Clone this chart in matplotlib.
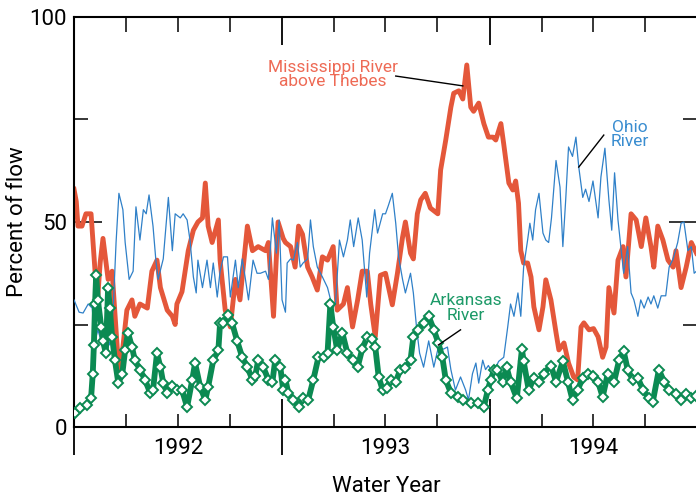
"""
Share of flow at Thebes by river, water years 1992-1994.
Mississippi above Thebes, Ohio and Arkansas as percent of flow.
"""
import numpy as np, pandas as pd
import matplotlib
matplotlib.use("Agg")
import matplotlib.pyplot as plt

plt.rcParams["font.family"] = ["Roboto", "DejaVu Sans"]

START = pd.Timestamp("1991-10-01")

# days since 1 Oct 1991, percent of flow
miss_day = [0, 4, 7, 14, 21, 30, 37, 41, 46, 51, 60, 67, 76, 81, 86, 93, 102, 107, 116, 129,
            137, 146, 152, 164, 173, 178, 181, 190, 201, 210, 218, 226, 231, 236, 243, 254, 257,
            266, 275, 284, 292, 305, 314, 324, 337, 342, 351, 359, 368, 372, 381, 389, 395, 402,
            411, 419, 428, 437, 446, 456, 463, 474, 481, 490, 499, 507, 516, 522, 530, 539, 548,
            560, 569, 578, 583, 592, 597, 604, 610, 618, 627, 640, 645, 654, 663, 668, 677, 684,
            691, 698, 703, 712, 721, 729, 737, 742, 751, 756, 765, 772, 777, 782, 786, 791, 798,
            804, 809, 818, 825, 830, 839, 848, 853, 862, 870, 879, 886, 892, 897, 906, 914, 922,
            930, 936, 941, 950, 957, 966, 971, 980, 989, 998, 1006, 1015, 1020, 1027, 1036, 1045,
            1054, 1059, 1068, 1077, 1086, 1095]
miss_val = [58, 55, 49, 49, 52, 52, 38, 30, 40, 46, 36, 38, 19.5, 14, 19.5, 28.5, 31, 27, 30, 29,
            38, 40.7, 34, 28.5, 27, 25, 30, 33, 43, 48, 50, 51, 59.5, 49, 45, 50.5, 40.7,
            28.5, 24.4, 36, 31, 49, 43, 44, 43, 45, 27, 50, 46, 45, 44, 39, 49, 47,
            39, 36.6, 33.4, 41.5, 40.7, 44, 28.5, 30, 34, 24.4, 31, 38, 38, 30, 22, 37, 37.5,
            29.8, 37.5, 46.3, 50, 42.4, 41, 52, 55.4, 57, 53.4, 52, 62.7, 70, 78, 81.4, 82, 80,
            88.3, 78, 77, 79, 74, 70.7, 70.7, 70, 74, 69, 59.5, 57.8, 60, 54.6, 43, 40, 40,
            36.6, 29.3, 23.7, 29.3, 35.9, 31, 23, 18.8, 20.5, 15.6, 12.2, 11.5, 24.4, 25.4, 23.7, 24, 22,
            17, 19.5, 34, 27.8, 40.7, 44, 36.6, 52, 50.5, 44, 51, 44, 39, 49, 45.6, 40.7,
            39, 43, 34, 39, 45, 42.4]

ohio_day = [0, 9, 16, 25, 32, 37, 42, 51, 58, 63, 69, 74, 79, 86, 90, 97, 104, 109, 116, 122,
            127, 132, 139, 144, 148, 157, 166, 173, 178, 187, 192, 199, 204, 210, 215, 218, 226,
            234, 240, 245, 252, 257, 263, 270, 275, 284, 289, 296, 301, 307, 315, 322, 328, 337,
            342, 349, 356, 361, 366, 372, 375, 381, 386, 393, 398, 403, 411, 416, 421, 428, 437,
            446, 455, 460, 467, 474, 481, 486, 492, 500, 507, 515, 520, 529, 534, 543, 548, 553,
            560, 566, 571, 578, 583, 592, 597, 603, 608, 615, 624, 633, 641, 650, 657, 663, 671,
            680, 689, 694, 701, 707, 712, 719, 724, 729, 737, 747, 756, 763, 768, 774, 781, 786,
            791, 798, 802, 807, 812, 818, 825, 830, 835, 840, 848, 855, 860, 865, 870, 877, 883,
            888, 895, 900, 906, 913, 922, 927, 934, 941, 946, 951, 957, 962, 967, 974, 980, 985,
            992, 997, 1003, 1010, 1015, 1020, 1027, 1033, 1041, 1047, 1054, 1062, 1068, 1073,
            1080, 1086, 1091, 1095]
ohio_val = [31, 28, 27.8, 30, 29, 21, 23.7, 19.5, 22, 20, 29, 45, 57, 53, 45, 36, 38, 53.7, 45.6, 53,
            52, 56.6, 49, 40.7, 36, 41, 56, 43, 52, 51, 52, 50.5, 45.6, 36.6, 32.7, 40.7, 34,
            40.7, 34, 40, 31.7, 38, 41.5, 41.5, 31.7, 40.7, 34, 41, 36.6, 31, 40.7, 37.5, 37.5, 38,
            36, 51, 42.4, 50.5, 31, 28, 40, 41, 40.7, 45, 39, 40, 41, 50.5, 44, 39, 36.6,
            34, 29, 30, 45.6, 41.5, 45.6, 50.5, 44, 51, 45.6, 31.7, 42.4, 53, 47.3, 52, 52, 54,
            57, 49.7, 41.5, 36, 32.7, 37.5, 32.7, 23.7, 18, 14.6, 21, 14.6, 19.5, 19, 19.5, 14, 9,
            12.2, 9, 6.6, 13, 15.6, 10.7, 16.3, 14, 15, 13, 16, 17, 24.4, 30, 27, 32.7, 27,
            39, 45.6, 49.7, 45.6, 53, 57, 47.3, 45.6, 45, 51, 65, 58.5, 44, 55.4, 68.3, 66, 70.7,
            63.4, 56, 58, 55, 60, 51, 61, 68, 55.4, 48, 62, 50.5, 44, 37.5, 44, 32.7, 31,
            27, 31, 29, 31.7, 30, 32, 29, 32, 32, 39, 41, 45, 49.7, 50,
            43, 44, 37.5, 38]

ark_day = [2, 11, 23, 30, 33, 35, 37, 39, 42, 48, 51, 56, 60, 63, 67, 72, 78, 85, 90, 95, 102,
           107, 116, 125, 134, 139, 146, 152, 157, 164, 173, 181, 190, 199, 208, 213, 222, 231,
           236, 245, 254, 257, 263, 271, 278, 287, 296, 305, 314, 319, 324, 333, 342, 349, 354,
           363, 368, 372, 377, 386, 395, 403, 412, 421, 430, 439, 446, 451, 456, 463, 472, 481,
           490, 499, 507, 516, 525, 530, 536, 543, 551, 557, 566, 574, 583, 592, 597, 606, 615,
           624, 633, 641, 648, 654, 663, 675, 685, 698, 710, 721, 728, 733, 739, 745, 754, 761,
           768, 779, 788, 791, 800, 809, 818, 826, 839, 848, 860, 869, 877, 886, 895, 904, 913,
           922, 930, 939, 950, 959, 967, 974, 983, 992, 1001, 1011, 1018, 1029, 1038, 1047, 1059,
           1068, 1077, 1086, 1095]
ark_val = [3.4, 4.6, 5.4, 7, 13, 20, 30, 37, 31, 24.4, 21, 18, 34, 29, 22, 16.3, 10.7, 13, 18.8, 23, 19.5,
           16.3, 14, 11.5, 8.3, 9, 18, 14.6, 10.7, 8.3, 10, 9, 9, 4.9, 11.5, 15.6, 9.8, 6.6,
           9.8, 16.3, 18.8, 25.4, 25.4, 27.3, 25.4, 21, 17, 14.6, 11.5, 12.5, 16.3, 14.6, 11.5, 11, 16.3,
           14.6, 9, 11.5, 8.3, 6.6, 4.9, 7, 6.6, 11.5, 17, 17, 18, 30, 24.4, 18.8, 23, 18,
           16.3, 14.6, 19, 22, 21.5, 19.5, 12.2, 9, 9.5, 11.5, 11, 14, 14.5, 16.3, 22, 23.7, 25.4,
           27, 23.7, 20.5, 17, 11.5, 8.3, 7.3, 6.6, 5.8, 5.8, 4.9, 9, 11.5, 14, 14, 11, 14.6,
           11, 7, 19, 16, 9, 12, 11, 13, 15, 11, 16, 11, 6.6, 9, 12, 13, 12.5,
           11, 7.3, 13, 11, 16.3, 18.5, 14, 11.5, 12, 9, 7, 6, 14, 11, 9, 8,
           6.6, 8, 7, 7.5]

MISS_C, OHIO_C, ARK_C = "#e4573a", "#2f80c8", "#0b8a52"

# water-year boundaries and quarter ticks, as day offsets
year_days = list((pd.to_datetime(["1991-10-01", "1992-10-01", "1993-10-01", "1994-10-01"]) - START).days)
qtr_days = [d for d in (pd.date_range("1992-01-01", "1994-07-01", freq="QS-JAN") - START).days
            if d not in year_days]
mid_days = (pd.to_datetime(["1992-04-01", "1993-04-01", "1994-04-01"]) - START).days
year_labels = ["1992", "1993", "1994"]

fig = plt.figure(figsize=(6.96, 4.99), dpi=100)
ax = fig.add_axes([74 / 696, 1 - 427 / 499, 623 / 696, 410 / 499])

ax.plot(miss_day, miss_val, color=MISS_C, lw=3.5, solid_joinstyle="round", zorder=2)
ax.plot(ohio_day, ohio_val, color=OHIO_C, lw=0.9, zorder=3)
ax.plot(ark_day, ark_val, color=ARK_C, lw=4.2, solid_joinstyle="round", marker="D", ms=5.6,
        mfc="white", mec=ARK_C, mew=1.4, zorder=4)

ax.set_xlim(0, year_days[-1])
ax.set_ylim(0, 100)

for s in ("left", "bottom", "top"):
    ax.spines[s].set_linewidth(1.5)
ax.spines["right"].set_visible(False)

ax.set_yticks([0, 50, 100])
ax.set_yticklabels(["0", "50", "100"])
ax.set_yticks([25, 75], minor=True)
ax.tick_params(axis="y", which="major", direction="in", length=20, width=1.1,
               left=True, right=True, labelsize=16, pad=5)
ax.tick_params(axis="y", which="minor", direction="in", length=10, width=1.1, left=True, right=True)

ax.set_xticks(year_days)
ax.set_xticklabels([])
ax.set_xticks(qtr_days, minor=True)
ax.tick_params(axis="x", which="major", direction="inout", length=40, width=1.3, top=False)
ax.tick_params(axis="x", which="minor", direction="in", length=9.5, width=1.1, top=False)

# top ticks drawn separately (they are longer than the bottom ones)
top = ax.twiny()
top.set_xlim(ax.get_xlim())
top.set_xticks(year_days)
top.set_xticklabels([])
top.set_xticks(qtr_days, minor=True)
top.tick_params(axis="x", which="major", direction="in", length=20, width=1.3)
top.tick_params(axis="x", which="minor", direction="in", length=10.8, width=1.1)
for s in top.spines.values():
    s.set_visible(False)

for d, lab in zip(mid_days, year_labels):
    ax.text(d, -0.052, lab, transform=ax.get_xaxis_transform(), ha="center", va="center",
            fontsize=16, clip_on=False)

fig.text(386 / 696, 1 - 486 / 499, "Water Year", ha="center", va="center", fontsize=16)
fig.text(18 / 696, 1 - 222 / 499, "Percent of flow", ha="center", va="center", fontsize=16,
         rotation=90)

# labels with leader lines
ax.text(456, 86.0, "Mississippi River\nabove Thebes", ha="center", va="center",
        fontsize=12.5, color="#ee6a55", linespacing=0.95)
ax.plot([566, 684], [85.6, 83.2], color="black", lw=1.0, zorder=5)
ax.text(978, 71.4, "Ohio\nRiver", ha="center", va="center", fontsize=12.5, color="#3a8dd0",
        linespacing=0.95)
ax.plot([932, 888], [71.2, 63.4], color="black", lw=1.0, zorder=5)
ax.text(690, 29.0, "Arkansas\nRiver", ha="center", va="center", fontsize=12.5, color="#1d9a68",
        linespacing=0.95)
ax.plot([680, 641], [23.7, 20.0], color="black", lw=1.0, zorder=5)

fig.savefig("out.png", dpi=100)
